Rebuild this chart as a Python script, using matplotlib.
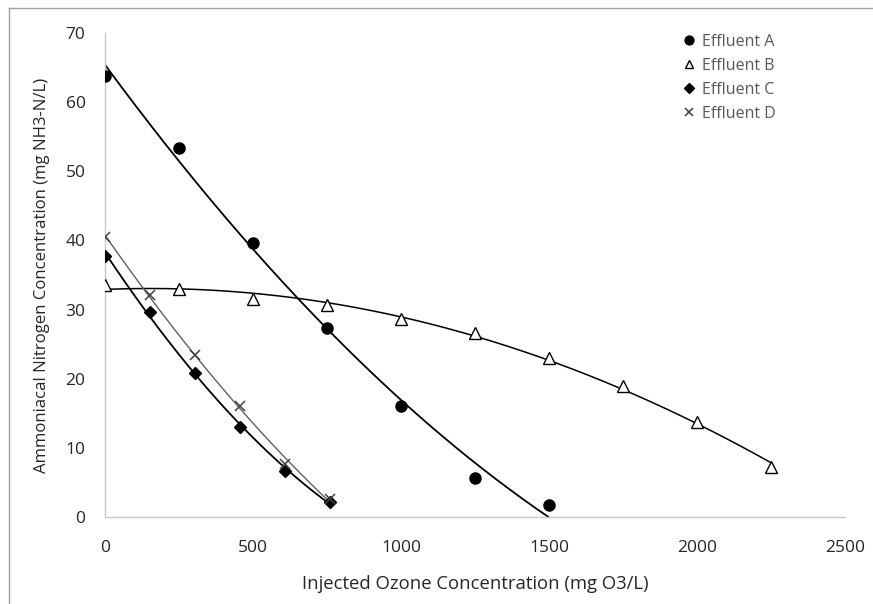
import numpy as np
import matplotlib
matplotlib.use("Agg")
import matplotlib.pyplot as plt
from matplotlib.lines import Line2D

# Data
xA = [0, 250, 500, 750, 1000, 1250, 1500]
yA = [63.8, 53.3, 39.7, 27.4, 16.0, 5.6, 1.7]
xB = [0, 250, 500, 750, 1000, 1250, 1500, 1750, 2000, 2250]
yB = [33.5, 33.0, 31.6, 30.6, 28.6, 26.6, 23.0, 19.0, 13.7, 7.2]
xC = [0, 152, 304, 456, 608, 760]
yC = [37.8, 29.6, 20.9, 13.0, 6.7, 2.2]
xD = [0, 152, 304, 456, 608, 760]
yD = [40.5, 32.1, 23.4, 16.1, 7.6, 2.6]
labels = ["Effluent A", "Effluent B", "Effluent C", "Effluent D"]
xticks = [0, 500, 1000, 1500, 2000, 2500]
yticks = [0, 10, 20, 30, 40, 50, 60, 70]

plt.rcParams['font.family'] = ['Open Sans', 'DejaVu Sans']

fig = plt.figure(figsize=(8.73, 6.04), dpi=100)
ax = fig.add_axes([0.1203, 0.144, 0.968 - 0.1203, 0.9454 - 0.144])

series = [
    (xA, yA, dict(marker='o', color='black', markersize=8, linestyle='none'), dict(color='black', lw=1.3)),
    (xB, yB, dict(marker='^', markerfacecolor='white', markeredgecolor='black', markersize=8, markeredgewidth=1.0, linestyle='none'), dict(color='black', lw=1.1)),
    (xC, yC, dict(marker='D', color='black', markersize=6, linestyle='none'), dict(color='black', lw=1.3)),
    (xD, yD, dict(marker='x', color='#404040', markersize=7, markeredgewidth=1.1, linestyle='none'), dict(color='#606060', lw=1.0)),
]

handles = []
for (x, y, mk, ln), lab in zip(series, labels):
    x = np.array(x, float); y = np.array(y, float)
    coef = np.polyfit(x, y, 2)
    xs = np.linspace(x.min(), x.max(), 300)
    ax.plot(xs, np.polyval(coef, xs), zorder=2, **ln)
    h, = ax.plot(x, y, zorder=3, label=lab, **mk)
    handles.append(h)

ax.set_xlim(0, 2500)
ax.set_ylim(0, 70)
ax.set_xticks(xticks)
ax.set_yticks(yticks)
ax.tick_params(length=0, labelsize=12.5, colors='#262626')
ax.tick_params(axis='x', pad=16.5)
ax.tick_params(axis='y', pad=14)
for s in ['top', 'right']:
    ax.spines[s].set_visible(False)
for s in ['left', 'bottom']:
    ax.spines[s].set_color('#c8c8c8')
    ax.spines[s].set_linewidth(1.0)

ax.set_xlabel("Injected Ozone Concentration (mg O3/L)", fontsize=13.3, color='#262626', labelpad=14)
ax.set_ylabel("Ammoniacal Nitrogen Concentration (mg NH3-N/L)", fontsize=12.1, color='#262626', labelpad=11)

leg = ax.legend(handles=handles, loc='upper right', bbox_to_anchor=(0.926, 1.028), frameon=False,
                fontsize=11.5, handlelength=0.8, handletextpad=0.45, labelspacing=0.5,
                markerscale=0.8)
for t in leg.get_texts():
    t.set_color('#595959')

# figure border (left and top visible)
fig.add_artist(Line2D([9/873, 9/873], [0, 1 - 8/604], transform=fig.transFigure, color='#a0a0a0', lw=1))
fig.add_artist(Line2D([9/873, 1], [1 - 8/604, 1 - 8/604], transform=fig.transFigure, color='#a0a0a0', lw=1))

fig.savefig("out.png", dpi=100)
